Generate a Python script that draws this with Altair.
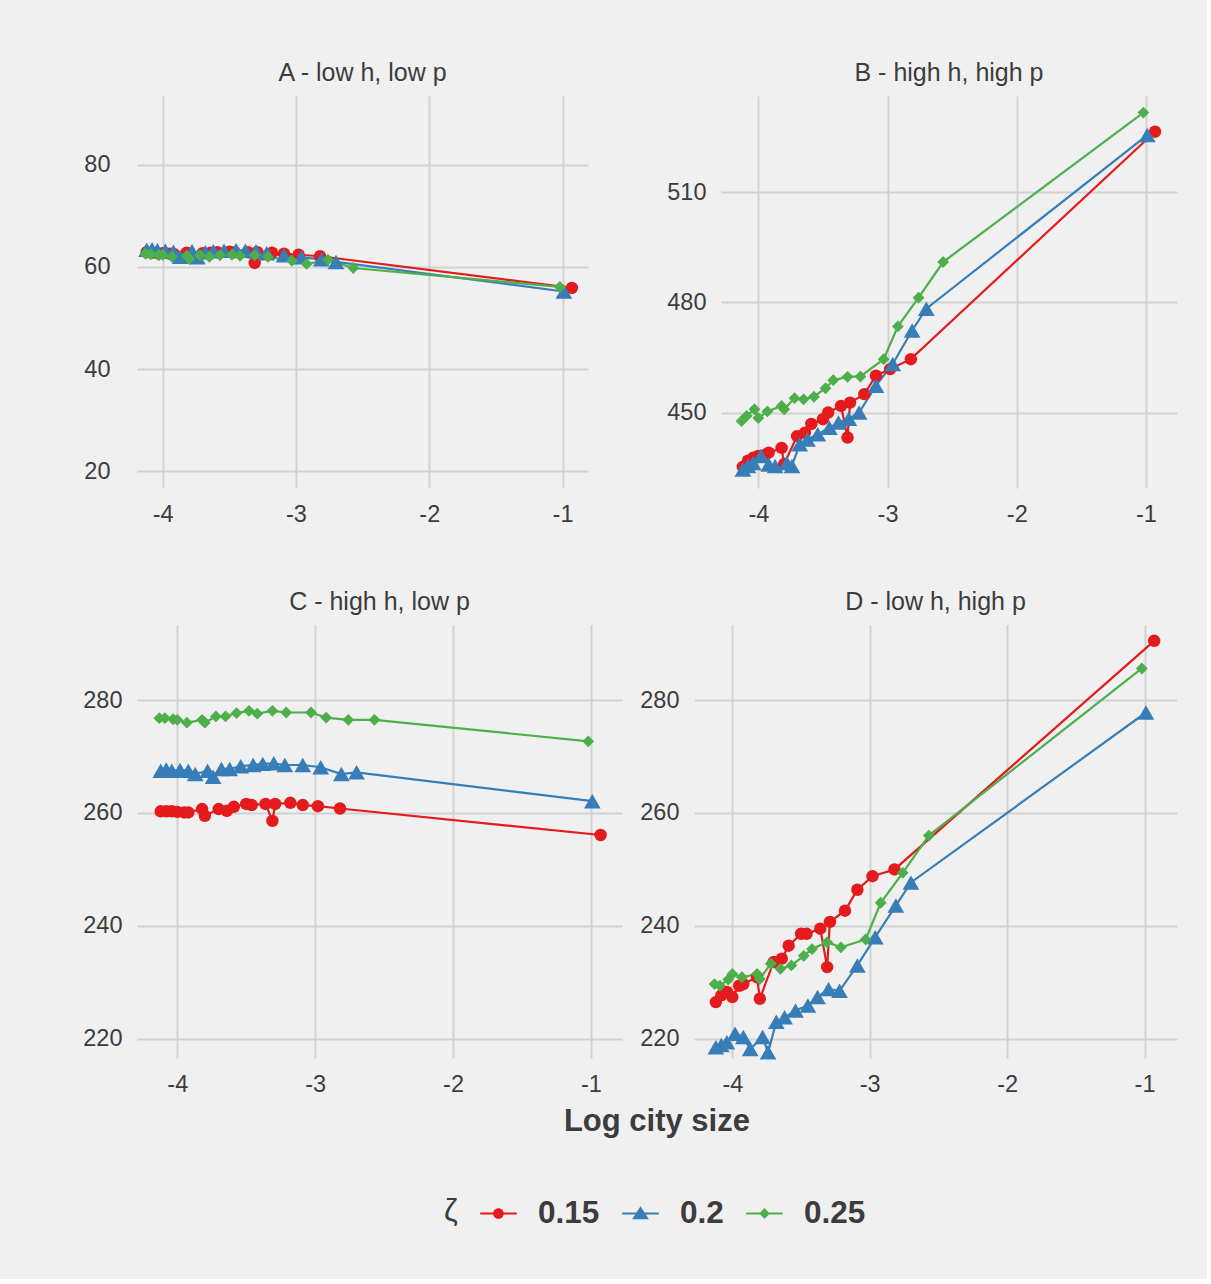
import altair as alt
import pandas as pd

# ---------------- data ----------------
ZETAS = ["0.15", "0.2", "0.25"]
COLORS = ["#E41A1C", "#377EB8", "#4DAF4A"]
SHAPES = ["circle", "triangle-up", "diamond"]
SIZES = [155, 280, 140]

X_015 = [-4.12, -4.08, -4.04, -4.00, -3.95, -3.92, -3.82, -3.80, -3.70, -3.64, -3.59,
         -3.50, -3.46, -3.36, -3.31, -3.29, -3.18, -3.09, -2.98, -2.82, -0.93]
X_02 = [-4.12, -4.08, -4.04, -3.98, -3.92, -3.87, -3.78, -3.74, -3.68, -3.62, -3.54,
        -3.45, -3.38, -3.30, -3.22, -3.09, -2.96, -2.81, -2.70, -0.99]
X_025 = [-4.13, -4.09, -4.03, -4.00, -3.93, -3.82, -3.80, -3.72, -3.65, -3.57, -3.48,
         -3.42, -3.31, -3.21, -3.03, -2.92, -2.76, -2.57, -1.02]

A_015 = [62.9, 62.8, 62.7, 62.7, 62.6, 62.6, 62.8, 62.3, 62.7, 62.8, 62.9, 63.0, 62.9,
         62.9, 60.8, 62.9, 62.8, 62.6, 62.4, 62.1, 55.9]
A_02 = [63.4, 63.5, 63.3, 63.2, 63.0, 62.0, 63.1, 61.9, 62.9, 63.1, 63.2, 63.3, 63.2,
        63.1, 62.7, 62.3, 61.9, 61.5, 61.0, 55.2]
A_025 = [62.6, 62.5, 62.3, 62.4, 62.0, 62.2, 61.6, 62.3, 62.0, 62.3, 62.4, 62.2, 62.3,
         62.0, 61.2, 60.6, 61.4, 59.8, 56.1]

B_015 = [435.3, 437.0, 437.8, 438.3, 438.5, 439.2, 440.5, 436.1, 443.7, 444.6, 447.0,
         448.3, 450.1, 451.9, 443.3, 452.8, 455.1, 460.1, 461.9, 464.6, 526.4]
B_02 = [434.6, 435.6, 436.4, 438.3, 436.0, 435.6, 436.4, 435.6, 441.5, 442.8, 444.2,
        446.0, 447.4, 448.4, 450.1, 457.4, 463.3, 472.4, 478.3, 525.5]
B_025 = [447.8, 449.2, 451.0, 448.6, 450.4, 451.9, 451.0, 454.0, 453.7, 454.4, 456.7,
         458.9, 459.8, 459.9, 464.6, 473.5, 481.3, 491.0, 531.6]

C_015 = [260.3, 260.3, 260.3, 260.2, 260.1, 260.1, 260.7, 259.5, 260.7, 260.4, 261.1,
         261.6, 261.4, 261.6, 258.6, 261.6, 261.8, 261.4, 261.2, 260.8, 256.1]
C_02 = [267.5, 267.7, 267.5, 267.6, 267.5, 266.9, 267.5, 266.4, 267.8, 267.8, 268.3,
        268.5, 268.7, 268.8, 268.5, 268.5, 268.1, 266.9, 267.2, 262.1]
C_025 = [276.8, 276.8, 276.6, 276.5, 276.0, 276.5, 276.0, 277.1, 277.1, 277.7, 278.1,
         277.6, 278.1, 277.8, 277.8, 276.9, 276.5, 276.5, 272.7]

D_015 = [226.5, 227.7, 228.3, 227.4, 229.4, 229.7, 230.9, 227.1, 233.6, 234.2, 236.5,
         238.6, 238.6, 239.5, 232.7, 240.7, 242.7, 246.4, 248.8, 250.0, 290.5]
D_02 = [218.5, 218.9, 219.4, 220.9, 220.3, 218.2, 220.3, 217.6, 223.0, 223.8, 225.0,
        225.9, 227.4, 228.8, 228.5, 233.0, 238.0, 243.6, 247.7, 277.8]
D_025 = [229.7, 229.4, 230.5, 231.5, 230.9, 231.5, 230.6, 233.3, 232.4, 233.0, 234.7,
         235.9, 237.1, 236.2, 237.6, 244.1, 249.4, 256.0, 285.6]

PANELS = ["A", "B", "C", "D"]
PANEL_TITLES = ["A - low h, low p", "B - high h, high p", "C - high h, low p", "D - low h, high p"]
X_TICKS = [-4, -3, -2, -1]
Y_TICKS = {"A": [20, 40, 60, 80], "B": [450, 480, 510], "C": [220, 240, 260, 280], "D": [220, 240, 260, 280]}
SERIES = {"A": (A_015, A_02, A_025), "B": (B_015, B_02, B_025),
          "C": (C_015, C_02, C_025), "D": (D_015, D_02, D_025)}
XS = (X_015, X_02, X_025)

rows = []
for p in PANELS:
    for z, xs, ys in zip(ZETAS, XS, SERIES[p]):
        for i, (xv, yv) in enumerate(zip(xs, ys)):
            rows.append({"panel": p, "zeta": z, "x": xv, "y": yv, "ord": i})
df = pd.DataFrame(rows)

# ---------------- layout / style ----------------
FONT = "Liberation Sans"
TXT = "#3C3C3C"
GEOM = {
    "A": dict(xdom=[-4.193, -0.809], ydom=[16.7, 93.5], w=451, h=392, ypad=27),
    "B": dict(xdom=[-4.289, -0.760], ydom=[429.6, 536.1], w=456, h=392, ypad=15),
    "C": dict(xdom=[-4.292, -0.775], ydom=[216.6, 293.3], w=485, h=433, ypad=15),
    "D": dict(xdom=[-4.279, -0.764], ydom=[216.6, 293.3], w=483, h=433, ypad=15),
}

R = 0.055
LINE = f"M-1,-{R}L1,-{R}L1,{R}L-1,{R}Z"
P_CIRCLE = LINE + "M-0.29,0A0.29,0.29,0,1,1,0.29,0A0.29,0.29,0,1,1,-0.29,0Z"
P_TRI = LINE + "M0,-0.40L0.46,0.31L-0.46,0.31Z"
P_DIAM = LINE + "M0,-0.30L0.28,0L0,0.30L-0.28,0Z"
SHAPE_EXPR = (f"datum.value == '0.15' ? '{P_CIRCLE}' : "
              f"(datum.value == '0.2' ? '{P_TRI}' : '{P_DIAM}')")

legend = alt.Legend(
    title="ζ", orient="none", legendX=307, legendY=1099,
    direction="horizontal", titleOrient="left",
    titleFont=FONT, titleFontSize=31, titleFontWeight="normal", titleColor=TXT,
    titlePadding=22, titleBaseline="middle",
    labelFont=FONT, labelFontSize=31.5, labelFontWeight="bold", labelColor=TXT,
    symbolSize=1340, symbolStrokeWidth=0, symbolOpacity=1,
    symbolType=alt.ExprRef(SHAPE_EXPR),
    labelOffset=21, columnPadding=22,
)


def make_panel(idx):
    key = PANELS[idx]
    g = GEOM[key]
    base = alt.Chart(df).transform_filter(alt.datum.panel == key)
    x = alt.X("x:Q", scale=alt.Scale(domain=g["xdom"], nice=False, zero=False),
              axis=alt.Axis(values=X_TICKS, labelExpr="'' + datum.value", labelPadding=14,
                            title=None))
    y = alt.Y("y:Q", scale=alt.Scale(domain=g["ydom"], nice=False, zero=False),
              axis=alt.Axis(values=Y_TICKS[key], title=None, labelPadding=g["ypad"],
                            labelExpr="'' + datum.value"))
    color = alt.Color("zeta:N", scale=alt.Scale(domain=ZETAS, range=COLORS), legend=legend)
    layers = [base.mark_line(strokeWidth=2.2).encode(x=x, y=y, color=color, order="ord:Q")]
    for z, shp, sz in zip(ZETAS, SHAPES, SIZES):
        layers.append(
            base.transform_filter(alt.datum.zeta == z)
            .mark_point(filled=True, opacity=1, strokeWidth=0, shape=shp, size=sz)
            .encode(x=x, y=y, color=color)
        )
    return alt.layer(*layers).properties(
        width=g["w"], height=g["h"],
        title=alt.TitleParams(PANEL_TITLES[idx], font=FONT, fontSize=25, fontWeight="normal",
                              color=TXT, anchor="middle", frame="group", offset=-10,
                              baseline="alphabetic"),
    )


row1 = alt.hconcat(make_panel(0), make_panel(1), spacing=78)
row2 = alt.hconcat(make_panel(2), make_panel(3), spacing=17).properties(
    title=alt.TitleParams("Log city size", orient="bottom", anchor="middle", frame="bounds",
                          dx=27, offset=35, font=FONT, fontSize=31, fontWeight="bold",
                          color=TXT, baseline="alphabetic")
)
chart = (
    alt.vconcat(row1, row2, spacing=64)
    .properties(padding={"left": 82, "top": 61, "right": 30, "bottom": 50},
                background="#F0F0F0")
    .configure_view(stroke=None, fill=None)
    .configure_axis(grid=True, gridColor="#D2D2D2", gridWidth=2, domain=False, ticks=False,
                    tickSize=0, labelFont=FONT, labelFontSize=23.5, labelColor=TXT,
                    labelFlush=False, labelOverlap=False)
)

chart.save("out.html", embed_options={"renderer": "svg", "actions": False})
